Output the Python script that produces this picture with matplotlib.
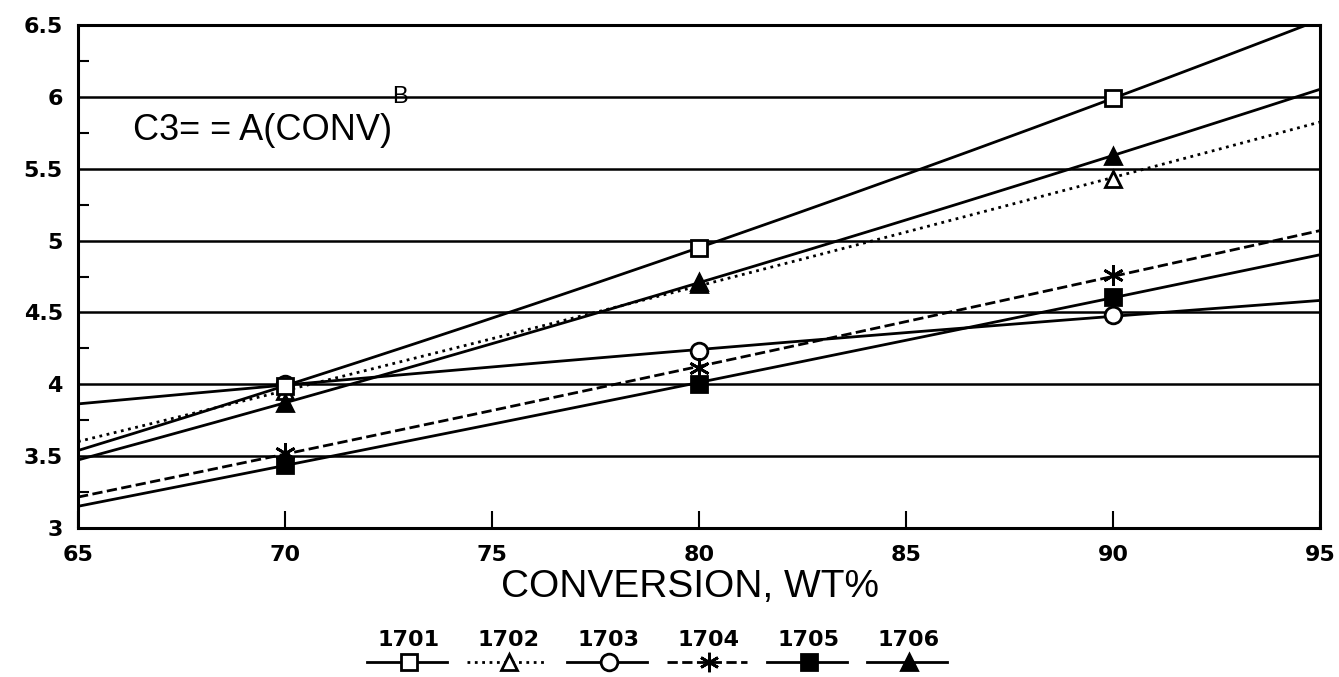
import numpy as np
import matplotlib
matplotlib.use('Agg')
import matplotlib.pyplot as plt

plt.rcParams['font.family'] = ['Liberation Sans', 'DejaVu Sans']

# Data (C3= yield vs conversion)
conv = [70, 80, 90]
c3_1701 = [3.99, 4.95, 5.99]
c3_1702 = [3.95, 4.70, 5.43]
c3_1703 = [4.00, 4.23, 4.48]
c3_1704 = [3.52, 4.11, 4.76]
c3_1705 = [3.44, 4.00, 4.61]
c3_1706 = [3.87, 4.71, 5.59]

runs = ['1701', '1702', '1703', '1704', '1705', '1706']
values = [c3_1701, c3_1702, c3_1703, c3_1704, c3_1705, c3_1706]
markers = ['s', '^', 'o', (6, 2, 0), 's', '^']
filled = [False, False, False, True, True, True]
styles = ['-', ':', '-', '--', '-', '-']
mk_order = [9, 5, 4, 6, 7, 8]

bold_font = dict(family='DejaVu Sans', weight='bold')

fig = plt.figure(figsize=(13.39, 6.77), dpi=100)
ax = fig.add_axes([78 / 1339, 1 - 528 / 677, 1242 / 1339, 503 / 677])

# power law fit C3 = A * CONV^B for each run
x_fit = np.linspace(65, 95, 200)
for run, yv, mk, fl, ls, zo in zip(runs, values, markers, filled, styles, mk_order):
    B, lnA = np.polyfit(np.log(conv), np.log(yv), 1)
    y_fit = np.exp(lnA) * x_fit ** B
    ax.plot(x_fit, y_fit, color='black', ls=ls, lw=2, zorder=3)
    ax.plot(conv, yv, ls='none', marker=mk, ms=12 if mk != (6, 2, 0) else 15,
            mfc='black' if fl else 'white', mec='black', mew=2, zorder=zo)

for g in np.arange(3.5, 6.5, 0.5):
    ax.axhline(g, color='black', lw=1.8, zorder=1)

ax.set_xlim(65, 95)
ax.set_ylim(3, 6.5)
ax.set_xticks([65, 70, 75, 80, 85, 90, 95])
ax.set_yticks([3, 3.5, 4, 4.5, 5, 5.5, 6, 6.5])
ax.set_yticklabels(['3', '3.5', '4', '4.5', '5', '5.5', '6', '6.5'])
ax.set_yticks(np.arange(3.25, 6.5, 0.5), minor=True)
ax.tick_params(axis='x', direction='in', length=12, width=1.5, pad=12,
               labelsize=16)
ax.tick_params(axis='y', which='major', length=0, pad=11, labelsize=16)
ax.tick_params(axis='y', which='minor', direction='in', length=8, width=1.5)
for lab in ax.get_xticklabels() + ax.get_yticklabels():
    lab.set_fontfamily('DejaVu Sans')
    lab.set_fontweight('bold')
for sp in ax.spines.values():
    sp.set_linewidth(2.2)

ax.set_xlabel('CONVERSION, WT%', fontsize=28, va='center')
ax.xaxis.set_label_coords(0.493, -0.117)

t = ax.text(0.044, 0.791, 'C3= = A(CONV)', transform=ax.transAxes,
            fontsize=26, va='center', ha='left')
ax.annotate('B', xy=(1.0, 1.0), xycoords=t, xytext=(0, 3),
            textcoords='offset points', fontsize=17, va='bottom', ha='left')

# legend row under the axis label
lax = fig.add_axes([359 / 1339, 0.0, 600 / 1339, 60 / 677])
lax.set_xlim(0, 6)
lax.set_ylim(0, 1)
lax.axis('off')
for i, (run, mk, fl, ls) in enumerate(zip(runs, markers, filled, styles)):
    lax.plot([i + 0.08, i + 0.88], [0.25, 0.25], color='black', ls=ls, lw=2)
    lax.plot([i + 0.5], [0.25], marker=mk, ms=12 if mk != (6, 2, 0) else 14,
             mfc='black' if fl else 'white', mec='black', mew=2)
    lax.text(i + 0.5, 0.62, run, ha='center', va='center', fontsize=16,
             **bold_font)

fig.savefig('out.png', dpi=100)
